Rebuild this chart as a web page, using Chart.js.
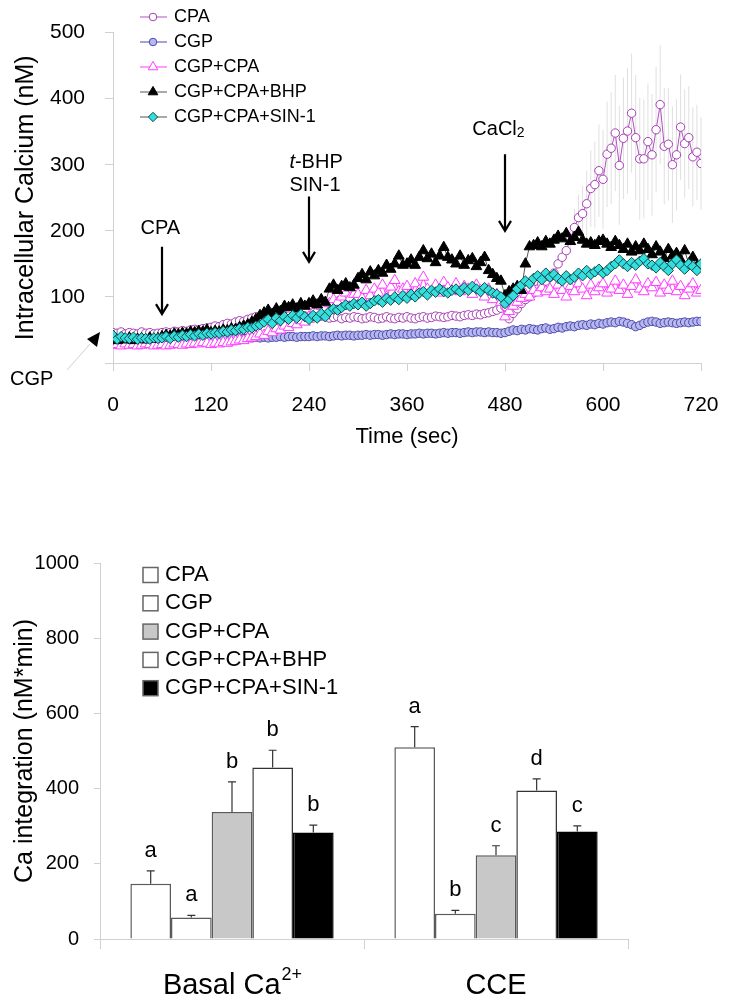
<!DOCTYPE html>
<html>
<head>
<meta charset="utf-8">
<script src="https://cdn.jsdelivr.net/npm/chart.js@4.4.1/dist/chart.umd.min.js"></script>
<style>
    html, body { margin: 0; padding: 0; background: #fff; }
    #wrap       { position: relative; width: 734px; height: 1008px; }
    #top-box    { position: absolute; left: 0; top: 0; }
    #bottom-box { position: absolute; left: 0; top: 520px; }
</style>
</head>
<body>
<div id="wrap">
    <div id="top-box"><canvas id="calcium-chart" width="734" height="460"></canvas></div>
    <div id="bottom-box"><canvas id="integration-chart" width="734" height="488"></canvas></div>
</div>
<script>
// ============================================================
// 細胞内カルシウム（上）と Ca 積分値（下）
// ============================================================

const FONT = '"Liberation Sans", Arial, Helvetica, sans-serif';

// ─── 上のグラフのデータ（5 秒ごと, 0〜720 秒） ───
const timeStep = 5;
const seriesNames = ['CPA', 'CGP', 'CGP+CPA', 'CGP+CPA+BHP', 'CGP+CPA+SIN-1'];

const cpaVals = [
    46, 45, 47, 44, 46, 45, 44, 47, 45, 46, 44, 45,
    46, 47, 46, 48, 47, 49, 48, 50, 51, 50, 52, 53,
    54, 56, 55, 58, 60, 59, 62, 64, 63, 66, 68, 70,
    70, 72, 69, 71, 73, 70, 72, 71, 69, 72, 70, 71,
    70, 68, 69, 71, 70, 68, 69, 70, 67, 69, 68, 70,
    69, 67, 68, 70, 69, 67, 68, 70, 68, 67, 69, 68,
    70, 68, 67, 69, 70, 68, 69, 71, 70, 69, 70, 72,
    71, 70, 72, 73, 72, 74, 73, 75, 76, 78, 80, 83,
    85, 67, 75, 82, 90, 96, 100, 106, 112, 120, 124, 130,
    136, 150, 160, 170, 188, 205, 220, 226, 241, 264, 270, 291,
    278, 316, 325, 348, 299, 340, 351, 378, 341, 309, 309, 335,
    315, 353, 391, 328, 331, 300, 315, 357, 332, 341, 312, 319,
    302,
];
const cgpVals = [
    32, 33, 33, 34, 33, 34, 34, 33, 34, 35, 34, 35,
    35, 34, 35, 35, 36, 35, 36, 36, 35, 36, 36, 37,
    37, 36, 37, 37, 38, 37, 38, 38, 37, 38, 38, 39,
    38, 39, 38, 39, 39, 40, 39, 40, 40, 39, 40, 40,
    40, 41, 40, 41, 41, 40, 41, 42, 41, 42, 42, 41,
    42, 42, 43, 42, 43, 43, 42, 43, 44, 43, 44, 44,
    43, 44, 44, 45, 44, 45, 45, 44, 45, 46, 45, 46,
    46, 45, 46, 47, 46, 47, 47, 46, 47, 46, 46, 45,
    46, 48, 50, 49, 51, 50, 52, 51, 50, 52, 53, 51,
    52, 54, 53, 55, 56, 55, 57, 58, 57, 59, 58, 60,
    59, 61, 62, 61, 63, 62, 60, 58, 55, 57, 60, 62,
    63, 62, 60, 61, 62, 61, 60, 61, 62, 61, 62, 63,
    63,
];
const cgpCpaVals = [
    27, 28, 26, 29, 27, 28, 26, 27, 29, 28, 26, 27,
    28, 26, 27, 29, 28, 27, 29, 28, 30, 29, 31, 30,
    28, 30, 29, 31, 30, 32, 33, 35, 34, 37, 38, 40,
    44, 42, 48, 46, 52, 50, 56, 54, 60, 58, 64, 62,
    70, 76, 80, 86, 82, 90, 96, 92, 100, 106, 98, 104,
    104, 98, 110, 102, 112, 106, 118, 100, 115, 125, 108, 112,
    116, 104, 120, 110, 130, 112, 108, 118, 106, 122, 114, 110,
    120, 108, 116, 112, 104, 118, 110, 100, 112, 96, 104, 92,
    70, 78, 86, 92, 98, 104, 100, 110, 106, 114, 108, 112,
    104, 118, 110, 100, 116, 108, 120, 112, 102, 118, 108, 114,
    120, 106, 112, 124, 110, 118, 104, 116, 126, 112, 108, 120,
    114, 122, 106, 118, 110, 124, 108, 116, 102, 112, 120, 106,
    110,
];
const bhpVals = [
    36, 34, 37, 35, 38, 34, 36, 37, 35, 38, 36, 37,
    40, 42, 41, 44, 43, 45, 44, 47, 46, 48, 47, 50,
    46, 48, 47, 50, 49, 52, 51, 54, 56, 58, 62, 66,
    72, 76, 80, 74, 82, 78, 86, 84, 88, 82, 90, 86,
    90, 94, 88, 96, 92, 112, 118, 110, 116, 120, 114, 118,
    128, 134, 126, 138, 132, 140, 136, 148, 142, 150, 162, 148,
    150, 156, 148, 160, 170, 158, 165, 152, 162, 175, 160, 156,
    150, 162, 148, 155, 158, 146, 152, 160, 140, 134, 128, 124,
    102, 108, 112, 116, 110, 150, 176, 178, 182, 176, 184, 180,
    186, 192, 188, 196, 184, 190, 198, 186, 180, 182, 178, 184,
    186, 180, 175, 184, 178, 172, 180, 168, 176, 170, 180, 172,
    164, 176, 168, 158, 172, 162, 166, 156, 170, 150, 160, 146,
    148,
];
const sinVals = [
    42, 36, 40, 38, 37, 39, 36, 38, 37, 36, 38, 37,
    38, 40, 37, 41, 39, 42, 40, 43, 41, 44, 42, 45,
    44, 46, 45, 48, 47, 50, 49, 52, 51, 54, 53, 56,
    58, 62, 66, 60, 68, 64, 70, 66, 72, 68, 74, 70,
    66, 72, 68, 75, 70, 78, 82, 80, 84, 88, 86, 90,
    88, 92, 86, 90, 94, 96, 92, 98, 95, 100, 96, 102,
    98, 104, 100, 106, 108, 103, 110, 107, 112, 108, 106, 110,
    112, 108, 114, 110, 116, 112, 108, 114, 110, 106, 104, 100,
    90, 96, 102, 112, 118, 124, 120, 128, 132, 126, 136, 130,
    134, 128, 124, 132, 126, 130, 136, 132, 140, 134, 138, 142,
    136, 140, 146, 150, 156, 150, 146, 152, 148, 154, 158, 150,
    148, 144, 152, 146, 140, 150, 156, 148, 142, 150, 146, 140,
    150,
];
// CPA の誤差（560 秒以降）
const cpaErrFrom = 560;
const cpaErr = [
    20, 28, 35, 42, 50, 58, 65, 70, 75, 80,
    85, 88, 90, 92, 95, 90, 95, 92, 90, 88,
    92, 95, 90, 88, 85, 88, 84, 80, 82, 78,
    75, 72, 70,
];

// ─── 下のグラフのデータ ───
const groups     = ['Basal Ca2+', 'CCE'];
const barNames   = ['CPA', 'CGP', 'CGP+CPA', 'CGP+CPA+BHP', 'CGP+CPA+SIN-1'];
const barCpa     = [147, 510];
const barCgp     = [57, 67];
const barCgpCpa  = [338, 223];
const barBhp     = [456, 395];
const barSin     = [283, 286];
const errCpa     = [34, 55];
const errCgp     = [6, 9];
const errCgpCpa  = [80, 25];
const errBhp     = [46, 31];
const errSin     = [20, 15];
const lettersCpa    = ['a', 'a'];
const lettersCgp    = ['a', 'b'];
const lettersCgpCpa = ['b', 'c'];
const lettersBhp    = ['b', 'd'];
const lettersSin    = ['b', 'c'];

// ─── スタイル ───
const lineStyles = [
    { pointStyle: 'circle',   radius: 4.2, fill: '#ffffff', stroke: '#a53cb4', line: '#b050c0' },
    { pointStyle: 'circle',   radius: 4.2, fill: '#b8b8f0', stroke: '#4a4aa8', line: '#4a4aa8' },
    { pointStyle: 'triangle', radius: 6.2, fill: '#ffffff', stroke: '#ff3cff', line: '#ff3cff' },
    { pointStyle: 'triangle', radius: 6.2, fill: '#000000', stroke: '#000000', line: '#555555' },
    { pointStyle: 'rectRot',  radius: 5.2, fill: '#33dede', stroke: '#124848', line: '#555555' },
];
const barStyles = [
    { bg: '#ffffff', border: '#5a5a5a' },
    { bg: '#ffffff', border: '#5a5a5a' },
    { bg: '#c8c8c8', border: '#5a5a5a' },
    { bg: '#ffffff', border: '#333333' },
    { bg: '#000000', border: '#000000' },
];
const AXIS_GRAY = '#d0d0d0';

// マーカー描画（凡例用）
function marker(ctx, st, x, y) {
    ctx.save();
    ctx.fillStyle   = st.fill;
    ctx.strokeStyle = st.stroke;
    ctx.lineWidth   = 1;
    Chart.helpers.drawPoint(ctx, { pointStyle: st.pointStyle, radius: st.radius * 0.9, rotation: 0, borderWidth: 1 }, x, y);
    ctx.restore();
}

function arrowDown(ctx, x, y1, y2) {
    ctx.save();
    ctx.strokeStyle = '#000';
    ctx.lineWidth = 2.2;
    ctx.beginPath();
    ctx.moveTo(x, y1);
    ctx.lineTo(x, y2);
    ctx.moveTo(x - 6, y2 - 10);
    ctx.lineTo(x, y2);
    ctx.lineTo(x + 6, y2 - 10);
    ctx.stroke();
    ctx.restore();
}

// ─── 上: 凡例・矢印・注釈 ───
const topNotes = {
    id: 'topNotes',
    beforeDatasetsDraw(chart) {
        const { ctx, scales: { x, y } } = chart;
        ctx.save();
        ctx.strokeStyle = '#e0e0e0';
        ctx.lineWidth = 1;
        cpaErr.forEach((e, i) => {
            const t = cpaErrFrom + i * timeStep;
            const v = cpaVals[t / timeStep];
            const px = x.getPixelForValue(t);
            ctx.beginPath();
            ctx.moveTo(px, y.getPixelForValue(v - e));
            ctx.lineTo(px, y.getPixelForValue(v + e));
            ctx.stroke();
        });
        ctx.restore();
    },
    afterDatasetsDraw(chart) {
        const { ctx, scales: { x, y } } = chart;
        ctx.save();
        ctx.fillStyle = '#000';
        ctx.textBaseline = 'middle';

        // 凡例
        ctx.font = `18px ${FONT}`;
        seriesNames.forEach((name, i) => {
            const st = lineStyles[i];
            const ry = 17 + i * 25;
            ctx.strokeStyle = st.line;
            ctx.lineWidth = 1;
            ctx.beginPath();
            ctx.moveTo(140, ry);
            ctx.lineTo(167, ry);
            ctx.stroke();
            marker(ctx, st, 153, ry);
            ctx.fillStyle = '#000';
            ctx.textAlign = 'left';
            ctx.fillText(name, 174, ry);
        });

        // 矢印
        arrowDown(ctx, x.getPixelForValue(60),  y.getPixelForValue(176), y.getPixelForValue(74));
        arrowDown(ctx, x.getPixelForValue(240), y.getPixelForValue(252), y.getPixelForValue(153));
        arrowDown(ctx, x.getPixelForValue(480), y.getPixelForValue(316), y.getPixelForValue(200));

        ctx.font = `20px ${FONT}`;
        ctx.textAlign = 'center';
        ctx.fillText('CPA', x.getPixelForValue(58), y.getPixelForValue(204));

        // t-BHP / SIN-1
        const lx = x.getPixelForValue(216);
        ctx.textAlign = 'left';
        ctx.font = `italic 20px ${FONT}`;
        ctx.fillText('t', lx, y.getPixelForValue(303));
        const tw = ctx.measureText('t').width;
        ctx.font = `20px ${FONT}`;
        ctx.fillText('-BHP', lx + tw, y.getPixelForValue(303));
        ctx.fillText('SIN-1', lx, y.getPixelForValue(268));

        // CaCl2
        const cy = y.getPixelForValue(354);
        ctx.font = `20px ${FONT}`;
        const w1 = ctx.measureText('CaCl').width;
        ctx.font = `14px ${FONT}`;
        const w2 = ctx.measureText('2').width;
        const cx0 = x.getPixelForValue(472) - (w1 + w2) / 2;
        ctx.font = `20px ${FONT}`;
        ctx.fillText('CaCl', cx0, cy);
        ctx.font = `14px ${FONT}`;
        ctx.fillText('2', cx0 + w1, cy + 4);

        // CGP ラベルと矢印
        ctx.font = `20px ${FONT}`;
        ctx.fillText('CGP', 10, 379);
        ctx.strokeStyle = '#cfcfcf';
        ctx.lineWidth = 1;
        ctx.beginPath();
        ctx.moveTo(67, 370);
        ctx.lineTo(90, 344);
        ctx.stroke();
        ctx.fillStyle = '#000';
        ctx.beginPath();
        ctx.moveTo(87, 339);
        ctx.lineTo(100, 332);
        ctx.lineTo(97, 347);
        ctx.closePath();
        ctx.fill();
        ctx.restore();
    },
};

const topSeries = [cpaVals, cgpVals, cgpCpaVals, bhpVals, sinVals];

new Chart(document.getElementById('calcium-chart'), {
    type: 'line',
    data: {
        datasets: topSeries.map((vals, i) => ({
            label: seriesNames[i],
            data: vals.map((v, k) => ({ x: k * timeStep, y: v })),
            order: topSeries.length - 1 - i,
            borderColor: lineStyles[i].line,
            borderWidth: 1,
            pointStyle: lineStyles[i].pointStyle,
            pointRadius: lineStyles[i].radius,
            pointBackgroundColor: lineStyles[i].fill,
            pointBorderColor: lineStyles[i].stroke,
            pointBorderWidth: 1,
            tension: 0,
        })),
    },
    options: {
        responsive: false,
        animation: false,
        layout: { padding: { left: 0, right: 33, top: 20, bottom: 0 } },
        plugins: { legend: { display: false }, tooltip: { enabled: false } },
        scales: {
            x: {
                type: 'linear', min: 0, max: 720,
                // 目盛ラベル分の余白で幅が縮まないようにする
                afterFit: (s) => { s.height = 97; s.paddingLeft = 0; s.paddingRight = 0; },
                ticks: { stepSize: 120, color: '#000', font: { size: 21, family: FONT }, padding: 22, maxRotation: 0 },
                grid: { drawOnChartArea: false, color: AXIS_GRAY, tickLength: 8 },
                border: { color: AXIS_GRAY },
                title: { display: true, text: 'Time (sec)', color: '#000', font: { size: 22, family: FONT }, padding: { top: 0, bottom: 10 } },
            },
            y: {
                min: 0, max: 500,
                afterFit: (s) => { s.width = 113; },
                ticks: { stepSize: 100, color: '#000', font: { size: 21, family: FONT }, padding: 20,
                         callback: (v) => (v === 0 ? '' : v) },
                grid: { drawOnChartArea: false, color: AXIS_GRAY, tickLength: 8 },
                border: { color: AXIS_GRAY },
                title: { display: true, text: 'Intracellular Calcium (nM)', color: '#000',
                         font: { size: 25, family: FONT }, padding: { top: 11, bottom: 0 } },
            },
        },
    },
    plugins: [topNotes],
});

// ─── 下: 棒グラフ ───
const barVals    = [barCpa, barCgp, barCgpCpa, barBhp, barSin];
const barErrs    = [errCpa, errCgp, errCgpCpa, errBhp, errSin];
const barLetters = [lettersCpa, lettersCgp, lettersCgpCpa, lettersBhp, lettersSin];

const barNotes = {
    id: 'barNotes',
    afterDatasetsDraw(chart) {
        const { ctx, scales: { x, y } } = chart;
        ctx.save();
        // 誤差棒と有意差の文字
        chart.data.datasets.forEach((ds, di) => {
            chart.getDatasetMeta(di).data.forEach((bar, i) => {
                const top = y.getPixelForValue(ds.data[i] + barErrs[di][i]);
                ctx.strokeStyle = '#333';
                ctx.lineWidth = 1.2;
                ctx.beginPath();
                ctx.moveTo(bar.x, bar.y);
                ctx.lineTo(bar.x, top);
                ctx.moveTo(bar.x - 4, top);
                ctx.lineTo(bar.x + 4, top);
                ctx.stroke();
                ctx.fillStyle = '#000';
                ctx.font = `22px ${FONT}`;
                ctx.textAlign = 'center';
                ctx.textBaseline = 'middle';
                ctx.fillText(barLetters[di][i], bar.x, top - 20);
            });
        });

        // 凡例
        ctx.textAlign = 'left';
        ctx.textBaseline = 'middle';
        barNames.forEach((name, i) => {
            const ry = 55 + i * 28.3;
            ctx.fillStyle = barStyles[i].bg;
            ctx.fillRect(143, ry - 7.5, 15, 15);
            ctx.strokeStyle = '#666';
            ctx.lineWidth = 1.5;
            ctx.strokeRect(143, ry - 7.5, 15, 15);
            ctx.fillStyle = '#000';
            ctx.font = `22px ${FONT}`;
            ctx.fillText(name, 165, ry);
        });

        // カテゴリ名（上付き文字つき）
        groups.forEach((g, i) => {
            const cx = x.getPixelForValue(i);
            const sup = g.endsWith('2+') ? '2+' : '';
            const base = sup ? g.slice(0, -2) : g;
            ctx.font = `29px ${FONT}`;
            const wb = ctx.measureText(base).width;
            ctx.font = `18px ${FONT}`;
            const ws = sup ? ctx.measureText(sup).width : 0;
            const x0 = cx - (wb + ws) / 2;
            ctx.font = `29px ${FONT}`;
            ctx.fillText(base, x0, 466);
            if (sup) {
                ctx.font = `18px ${FONT}`;
                ctx.fillText(sup, x0 + wb + 1, 455);
            }
        });
        ctx.restore();
    },
};

new Chart(document.getElementById('integration-chart'), {
    type: 'bar',
    data: {
        labels: groups,
        datasets: barVals.map((vals, i) => ({
            label: barNames[i],
            data: vals,
            backgroundColor: barStyles[i].bg,
            borderColor: barStyles[i].border,
            borderWidth: 1.5,
            categoryPercentage: 0.77,
            barPercentage: 1,
        })),
    },
    options: {
        responsive: false,
        animation: false,
        layout: { padding: { left: 0, right: 106, top: 43, bottom: 0 } },
        plugins: { legend: { display: false }, tooltip: { enabled: false } },
        scales: {
            x: {
                afterFit: (s) => { s.height = 69; },
                ticks: { display: false },
                grid: { offset: true, drawOnChartArea: false, color: AXIS_GRAY, tickLength: 10 },
                border: { color: AXIS_GRAY },
            },
            y: {
                min: 0, max: 1000,
                afterFit: (s) => { s.width = 100; },
                ticks: { stepSize: 200, color: '#000', font: { size: 20, family: FONT }, padding: 15,
                         callback: (v) => String(v) },
                grid: { drawOnChartArea: false, color: AXIS_GRAY, tickLength: 6 },
                border: { color: AXIS_GRAY },
                title: { display: true, text: 'Ca integration (nM*min)', color: '#000',
                         font: { size: 25, family: FONT }, padding: { top: 10, bottom: 0 } },
            },
        },
    },
    plugins: [barNotes],
});
</script>
</body>
</html>
